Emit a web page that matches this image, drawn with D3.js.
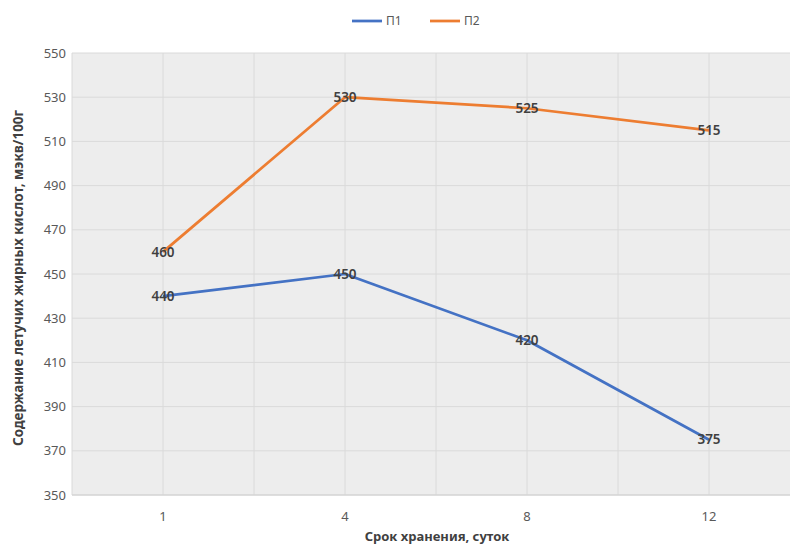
<!DOCTYPE html>
<html>
<head>
<meta charset="utf-8">
<script src="https://cdn.jsdelivr.net/npm/d3@7"></script>
<style>
  html, body { margin: 0; padding: 0; background: #ffffff; }
  svg { display: block; font-family: "Noto Sans", "Open Sans", sans-serif; }
</style>
</head>
<body>
<svg id="chart" width="790" height="549"></svg>
<script>
// Storage time categories (days)
const categories = ["1", "4", "8", "12"];
// Volatile fatty acid content for each sample
const seriesP1 = [440, 450, 420, 375];
const seriesP2 = [460, 530, 525, 515];
const seriesNames = ["П1", "П2"];
const seriesColors = ["#4472C4", "#ED7D31"];
// Y axis ticks
const yTicks = [350, 370, 390, 410, 430, 450, 470, 490, 510, 530, 550];

const svg = d3.select("#chart");
const margin = { left: 72, top: 53, right: -10, bottom: 54 };
const W = 790, H = 549;
const plotW = W - margin.left - margin.right;
const plotH = H - margin.top - margin.bottom;

const x = d3.scaleBand().domain(categories).range([margin.left, margin.left + plotW]);
const y = d3.scaleLinear().domain([350, 550]).range([margin.top + plotH, margin.top]);

// Plot background
svg.append("rect")
  .attr("x", margin.left).attr("y", margin.top)
  .attr("width", plotW).attr("height", plotH)
  .attr("fill", "#ededed");

// Horizontal gridlines
svg.append("g").selectAll("line").data(yTicks).join("line")
  .attr("x1", margin.left).attr("x2", margin.left + plotW)
  .attr("y1", d => y(d)).attr("y2", d => y(d))
  .attr("stroke", "#dadada").attr("stroke-width", 1);

// Vertical gridlines at band edges and centres
const vLines = [];
categories.forEach(c => { vLines.push(x(c)); vLines.push(x(c) + x.bandwidth() / 2); });
svg.append("g").selectAll("line").data(vLines).join("line")
  .attr("x1", d => d).attr("x2", d => d)
  .attr("y1", margin.top).attr("y2", margin.top + plotH)
  .attr("stroke", "#dadada").attr("stroke-width", 1);

// Bottom axis line
svg.append("line")
  .attr("x1", margin.left).attr("x2", margin.left + plotW)
  .attr("y1", y(350)).attr("y2", y(350))
  .attr("stroke", "#d0d0d0").attr("stroke-width", 1);

// Y axis tick labels
const yAxis = d3.axisLeft(y).tickValues(yTicks).tickSize(0).tickPadding(6);
const gy = svg.append("g").attr("transform", `translate(${margin.left},0)`).call(yAxis);
gy.select(".domain").remove();
gy.selectAll("text").attr("fill", "#595959").attr("font-size", 13)
  .attr("font-family", "'Noto Sans', sans-serif");

// X axis tick labels
const xAxis = d3.axisBottom(x).tickSize(0).tickPadding(17);
const gx = svg.append("g").attr("transform", `translate(0,${margin.top + plotH})`).call(xAxis);
gx.select(".domain").remove();
gx.selectAll("text").attr("fill", "#595959").attr("font-size", 13)
  .attr("font-family", "'Noto Sans', sans-serif");

// Series lines
const cx = c => x(c) + x.bandwidth() / 2;
const line = d3.line().x((d, i) => cx(categories[i])).y(d => y(d));
const allSeries = [seriesP1, seriesP2];
allSeries.forEach((s, k) => {
  svg.append("path").datum(s)
    .attr("d", line)
    .attr("fill", "none")
    .attr("stroke", seriesColors[k])
    .attr("stroke-width", 2.75)
    .attr("stroke-linejoin", "round");
});

// Data labels centred on each point
allSeries.forEach(s => {
  svg.append("g").selectAll("text").data(s).join("text")
    .attr("x", (d, i) => cx(categories[i]))
    .attr("y", d => y(d))
    .attr("dy", "0.35em")
    .attr("text-anchor", "middle")
    .attr("font-size", 13.5)
    .attr("font-weight", 600)
    .attr("fill", "#404040")
    .text(d => d);
});

// Legend
const legend = svg.append("g");
const legendItems = [{ x: 352 }, { x: 430 }];
legendItems.forEach((it, k) => {
  legend.append("line")
    .attr("x1", it.x).attr("x2", it.x + 30)
    .attr("y1", 21).attr("y2", 21)
    .attr("stroke", seriesColors[k]).attr("stroke-width", 2.75);
  legend.append("text")
    .attr("x", it.x + 34).attr("y", 21).attr("dy", "0.35em")
    .attr("font-size", 12).attr("fill", "#595959")
    .text(seriesNames[k]);
});

// Axis titles
svg.append("text")
  .attr("x", 437).attr("y", 541)
  .attr("text-anchor", "middle")
  .attr("font-size", 13).attr("font-weight", 700).attr("fill", "#404040")
  .text("Срок хранения, суток");

svg.append("text")
  .attr("transform", `translate(18,${margin.top + plotH / 2 + 4}) rotate(-90)`)
  .attr("text-anchor", "middle")
  .attr("dy", "0.35em")
  .attr("font-size", 13.5).attr("font-weight", 700).attr("fill", "#404040")
  .text("Содержание летучих жирных кислот, мэкв/100г");
</script>
</body>
</html>
